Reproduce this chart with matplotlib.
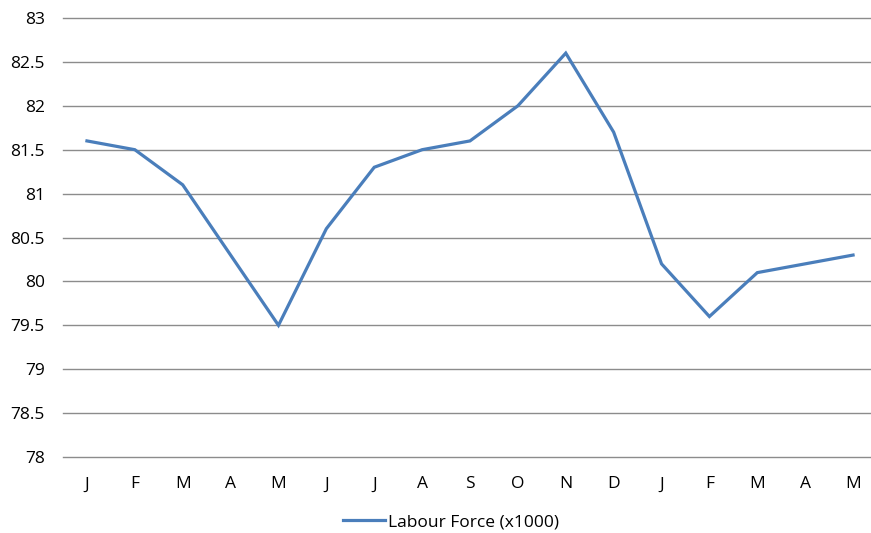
import matplotlib
matplotlib.use("Agg")
import matplotlib.pyplot as plt

months = ['J', 'F', 'M', 'A', 'M', 'J', 'J', 'A', 'S', 'O', 'N', 'D', 'J', 'F', 'M', 'A', 'M']
labour = [81.6, 81.5, 81.1, 80.3, 79.5, 80.6, 81.3, 81.5, 81.6, 82.0, 82.6, 81.7, 80.2, 79.6, 80.1, 80.2, 80.3]
yticks = [78, 78.5, 79, 79.5, 80, 80.5, 81, 81.5, 82, 82.5, 83]
ylabels = ['78', '78.5', '79', '79.5', '80', '80.5', '81', '81.5', '82', '82.5', '83']

plt.rcParams['font.family'] = ['Open Sans', 'DejaVu Sans']

W, H = 871, 533
fig = plt.figure(figsize=(W / 100, H / 100), dpi=100)
ax = fig.add_axes([63 / W, 1 - 457 / H, 814 / W, 439 / H])

x = list(range(len(labour)))
ax.plot(x, labour, '-', color='#4a7ebb', linewidth=2.3, label='Labour Force (x1000)',
        solid_joinstyle='miter', zorder=3)

ax.set_xlim(-0.5, len(labour) - 0.5)
ax.set_ylim(78, 83)
ax.set_yticks(yticks)
ax.set_yticklabels(ylabels, fontsize=12.5)
ax.set_xticks(x)
ax.set_xticklabels(months, fontsize=12.5)
ax.tick_params(axis='both', length=0, colors='#000000')
ax.tick_params(axis='x', pad=14)
ax.tick_params(axis='y', pad=13)

ax.grid(axis='y', color='#8c8c8c', linewidth=1.0)
for gl in ax.get_ygridlines():
    gl.set_clip_on(False)
ax.set_axisbelow(True)
for s in ax.spines.values():
    s.set_visible(False)

fig.legend(loc='center', bbox_to_anchor=(451 / W, 1 - 522 / H), frameon=False,
           fontsize=12.5, handlelength=2.4, handletextpad=0.2)

plt.savefig('out.png', dpi=100)
